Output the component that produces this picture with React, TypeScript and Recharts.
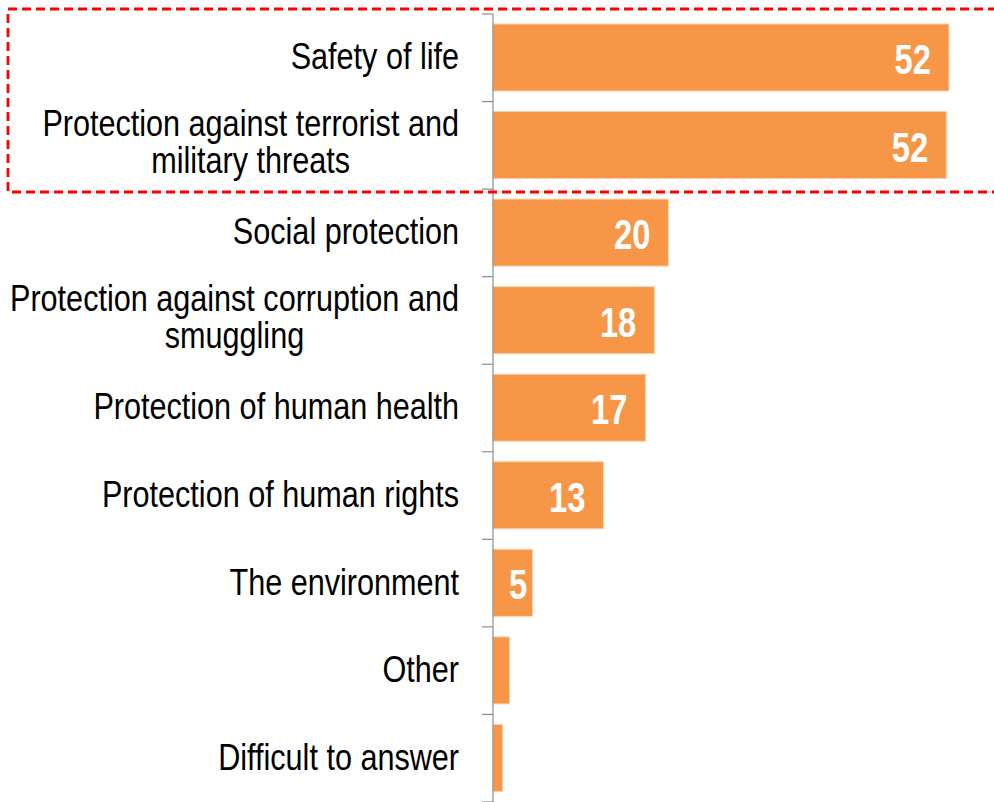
import React from "react";
import { BarChart, Bar, XAxis, YAxis, LabelList } from "recharts";

const categories: string[] = [
  "Safety of life",
  "Protection against terrorist and\nmilitary threats",
  "Social protection",
  "Protection against corruption and\nsmuggling",
  "Protection of human health",
  "Protection of human rights",
  "The environment",
  "Other",
  "Difficult to answer",
];
const shares: number[] = [52.0, 51.7, 20.0, 18.4, 17.4, 12.6, 4.5, 1.9, 1.1];
const xDomain: [number, number] = [0, 56];

const data = categories.map((name, i) => ({ name, value: shares[i] }));

const W = 994;
const H = 802;
const MARGIN = { top: 14, right: 10, bottom: 0, left: 0 };
const YAXIS_W = 493;
const AXIS_X = MARGIN.left + YAXIS_W;
const BAND = (H - MARGIN.top - MARGIN.bottom) / categories.length;
const FONT = "'Liberation Sans', Arial, sans-serif";
const TICK_FS = 37;
const TICK_SX = 0.827;
const LINE_H = 37;
const VAL_FS = 42;
const VAL_SX = 0.78;
const AXIS_COLOR = "#8c8c8c";

let ctx: CanvasRenderingContext2D | null = null;
function measure(text: string, fs: number, bold = false): number {
  if (!ctx) {
    const c = document.createElement("canvas");
    ctx = c.getContext("2d");
  }
  if (!ctx) return text.length * fs * 0.5;
  ctx.font = `${bold ? "bold " : ""}${fs}px "Liberation Sans"`;
  return ctx.measureText(text).width;
}

const CategoryTick = (props: any) => {
  const { y, payload, index } = props;
  const lines: string[] = String(payload.value).split("\n");
  const right = AXIS_X - 34;
  const n = lines.length;
  const blockW = Math.max(...lines.map((l) => measure(l, TICK_FS)));
  const cx = -blockW / 2;
  const top = y - BAND / 2;
  return (
    <g>
      <line x1={AXIS_X - 11} x2={AXIS_X} y1={top} y2={top} stroke={AXIS_COLOR} strokeWidth={1.2} />
      {index === categories.length - 1 ? (
        <line x1={AXIS_X - 11} x2={AXIS_X} y1={y + BAND / 2} y2={y + BAND / 2} stroke={AXIS_COLOR} strokeWidth={1.2} />
      ) : null}
      <g transform={`translate(${right} 0) scale(${TICK_SX} 1)`}>
        <text
          x={n > 1 ? cx : 0}
          textAnchor={n > 1 ? "middle" : "end"}
          fill="#000"
          fontFamily={FONT}
          fontSize={TICK_FS}
        >
          {lines.map((l, i) => (
            <tspan key={i} x={n > 1 ? cx : 0} y={y + (n > 1 ? 8.8 : 11.5) + (i - (n - 1) / 2) * LINE_H}>
              {l}
            </tspan>
          ))}
        </text>
      </g>
    </g>
  );
};

const ValueLabel = (props: any) => {
  const { x, y, width, height, value } = props;
  if (value == null || value < 3) return null;
  const label = String(Math.round(value));
  const tw = measure(label, VAL_FS, true) * VAL_SX;
  const x0 = Number(x);
  const right = Math.max(x0 + Number(width) - 18, x0 + 16 + tw);
  return (
    <g transform={`translate(${right} 0) scale(${VAL_SX} 1)`}>
      <text
        x={0}
        y={Number(y) + Number(height) / 2 + 16.5}
        textAnchor="end"
        fill="#ffffff"
        fontFamily={FONT}
        fontWeight="bold"
        fontSize={VAL_FS}
      >
        {label}
      </text>
    </g>
  );
};

export default function App() {
  return (
    <div style={{ position: "absolute", left: 0, top: 0, width: W, height: H, background: "#fff" }}>
      <BarChart width={W} height={H} data={data} layout="vertical" margin={MARGIN} barSize={67}>
        <XAxis type="number" domain={xDomain} hide />
        <YAxis
          type="category"
          dataKey="name"
          width={YAXIS_W}
          axisLine={{ stroke: AXIS_COLOR, strokeWidth: 1.2 }}
          tickLine={false}
          tick={<CategoryTick />}
          interval={0}
        />
        <Bar dataKey="value" fill="#F79646" stroke="#FAD0AA" strokeWidth={1} isAnimationActive={false}>
          <LabelList dataKey="value" content={<ValueLabel />} />
        </Bar>
      </BarChart>
      <svg width={W} height={H} style={{ position: "absolute", left: 0, top: 0, pointerEvents: "none" }}>
        <rect x={8} y={9} width={1000} height={183} fill="none" stroke="#ff0000" strokeWidth={2.8} strokeDasharray="9 5" />
      </svg>
    </div>
  );
}
